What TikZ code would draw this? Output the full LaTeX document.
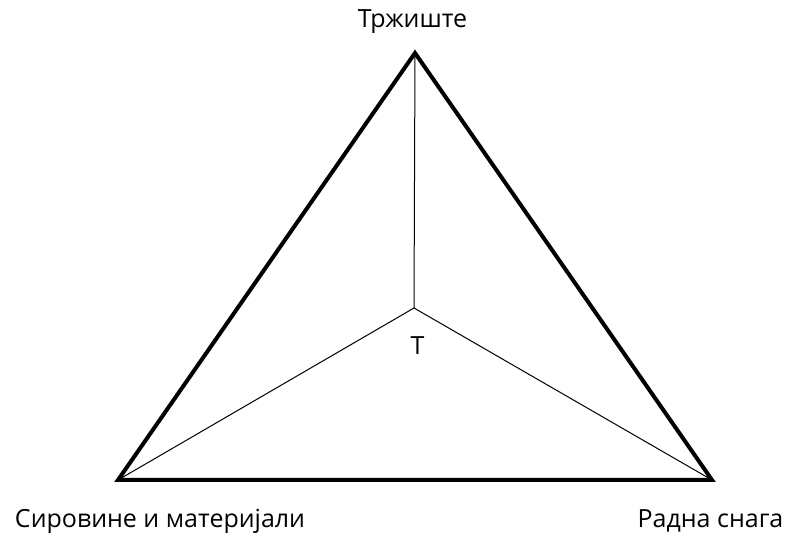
\documentclass[tikz,border=0pt]{standalone}
\usepackage{fontspec}
\setmainfont{Open Sans}
\begin{document}
\begin{tikzpicture}[x=1pt,y=-1pt,
  lbl/.style={inner sep=0pt,anchor=base,font=\fontsize{25}{28}\selectfont,text=black},
  edge/.style={line width=4pt,line join=miter,draw=black},
  spoke/.style={line width=1pt,draw=black}]
\useasboundingbox (0,0) rectangle (788,537);
\coordinate (A) at (415,53);
\coordinate (B) at (118,480);
\coordinate (C) at (712,480);
\coordinate (T) at (414,308);
\draw[spoke] (T) -- (A);
\draw[spoke] (T) -- (B);
\draw[spoke] (T) -- (C);
\draw[edge] (A) -- (B) -- (C) -- cycle;
\node[lbl] (la) at (412.5,28) {Тржиште};
\node[lbl] (lt) at (417.5,355) {Т};
\node[lbl] (lb) at (160,528) {Сировине и материјали};
\node[lbl] (lc) at (710.5,528) {Радна снага};
\end{tikzpicture}
\end{document}
